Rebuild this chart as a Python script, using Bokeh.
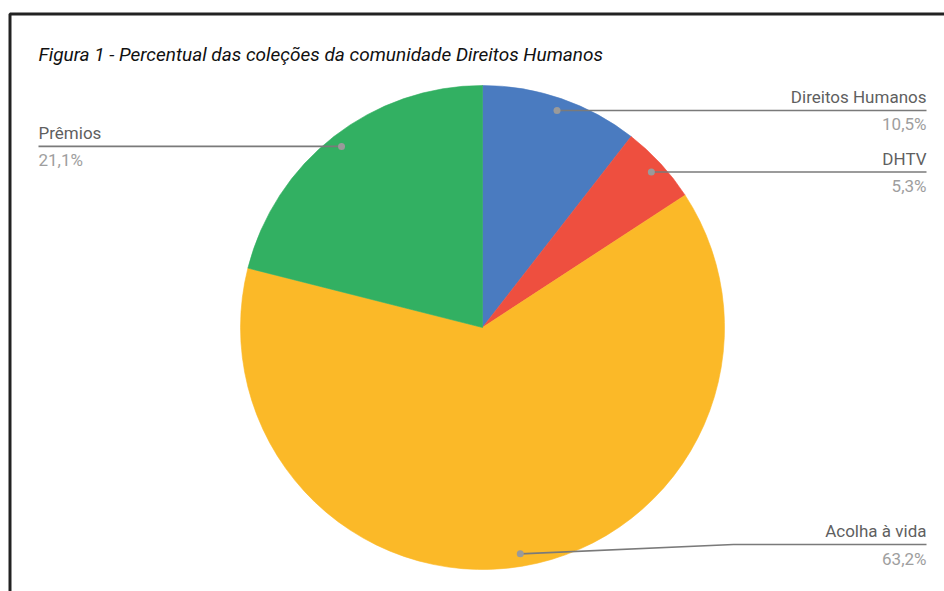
import math
from bokeh.plotting import figure
from bokeh.models import Range1d, BoxAnnotation
from bokeh.core.properties import value
from bokeh.embed import file_html
from bokeh.resources import INLINE

# ---- data ----
categories = ["Direitos Humanos", "DHTV", "Acolha à vida", "Prêmios"]
counts = [2, 1, 12, 4]
colors = ["#4A7BC0", "#EE4F3F", "#FBB928", "#32B062"]
title_text = "Figura 1 -  Percentual das coleções da comunidade Direitos Humanos"

# ---- layout (screen-pixel coordinates, y measured from top of page) ----
W, H = 944, 591
X0, Y0 = 0, 0
PAGE_H = Y0 + H
TEXT_DY = 7            # correction for svg baseline placement


def sy(y_screen):
    return PAGE_H - y_screen


CX, CY = 482, 327
R = 242
DOT_R = 229.5
RIGHT_END = 926
LEFT_END = 38
BOTTOM_LIMIT = 544          # lowest label line allowed (screen)
ELBOW_X = {"Acolha à vida": 733}
FONT = "Roboto"
FS = "17px"

p = figure(width=W, height=H, output_backend="svg", toolbar_location=None,
           x_range=Range1d(X0, X0 + W), y_range=Range1d(sy(Y0 + H), sy(Y0)),
           min_border=0, outline_line_color=None)
p.axis.visible = False
p.grid.visible = False
p.background_fill_color = "white"
p.border_fill_color = "white"

# frame (top and left edges visible)
p.add_layout(BoxAnnotation(left=9.5, right=2000, top=sy(13.5), bottom=-2000,
                           fill_alpha=0, line_color="#222222", line_alpha=1.0,
                           line_width=3))

total = sum(counts)
cum = 0.0
starts, ends = [], []
for c in counts:
    f0 = cum / total
    cum += c
    f1 = cum / total
    starts.append(math.pi / 2 - 2 * math.pi * f0)
    ends.append(math.pi / 2 - 2 * math.pi * f1)

p.wedge(x=[CX] * len(counts), y=[sy(CY)] * len(counts), radius=R,
        start_angle=starts, end_angle=ends, direction="clock",
        fill_color=colors, line_color=colors, line_width=0.6)

# labels
cum = 0.0
for name, c in zip(categories, counts):
    mid = (cum + c / 2) / total
    cum += c
    ang = 2 * math.pi * mid          # clockwise from top
    dx = DOT_R * math.sin(ang)
    dy = -DOT_R * math.cos(ang)      # screen
    dot_x, dot_y = CX + dx, CY + dy
    line_y = min(dot_y, BOTTOM_LIMIT)
    right = math.sin(ang) > 0
    end_x = RIGHT_END if right else LEFT_END
    elbow_x = ELBOW_X.get(name, dot_x)
    xs = [dot_x, elbow_x, end_x]
    ys = [sy(dot_y), sy(line_y), sy(line_y)]
    p.line(xs, ys, line_color="#7a7a7a", line_width=1.6)
    p.scatter([dot_x], [sy(dot_y)], size=7, fill_color="#9a9a9a",
              line_color=None)
    pct = f"{c / total * 100:.1f}".replace(".", ",") + "%"
    align = "right" if right else "left"
    p.text([end_x], [sy(line_y - 6.5 - TEXT_DY)], text=[name], text_align=align,
           text_baseline="alphabetic", text_font=value(FONT),
           text_font_size=FS, text_color="#5f5f5f")
    p.text([end_x], [sy(line_y + 20 - 6)], text=[pct], text_align=align,
           text_baseline="alphabetic", text_font=value(FONT),
           text_font_size=FS, text_color="#9e9e9e")

p.text([38], [sy(60 - 6)], text=[title_text], text_align="left",
       text_baseline="alphabetic", text_font=value(FONT),
       text_font_size="19px", text_font_style="italic", text_color="#111111")

open("out.html", "w").write(file_html(p, INLINE))
